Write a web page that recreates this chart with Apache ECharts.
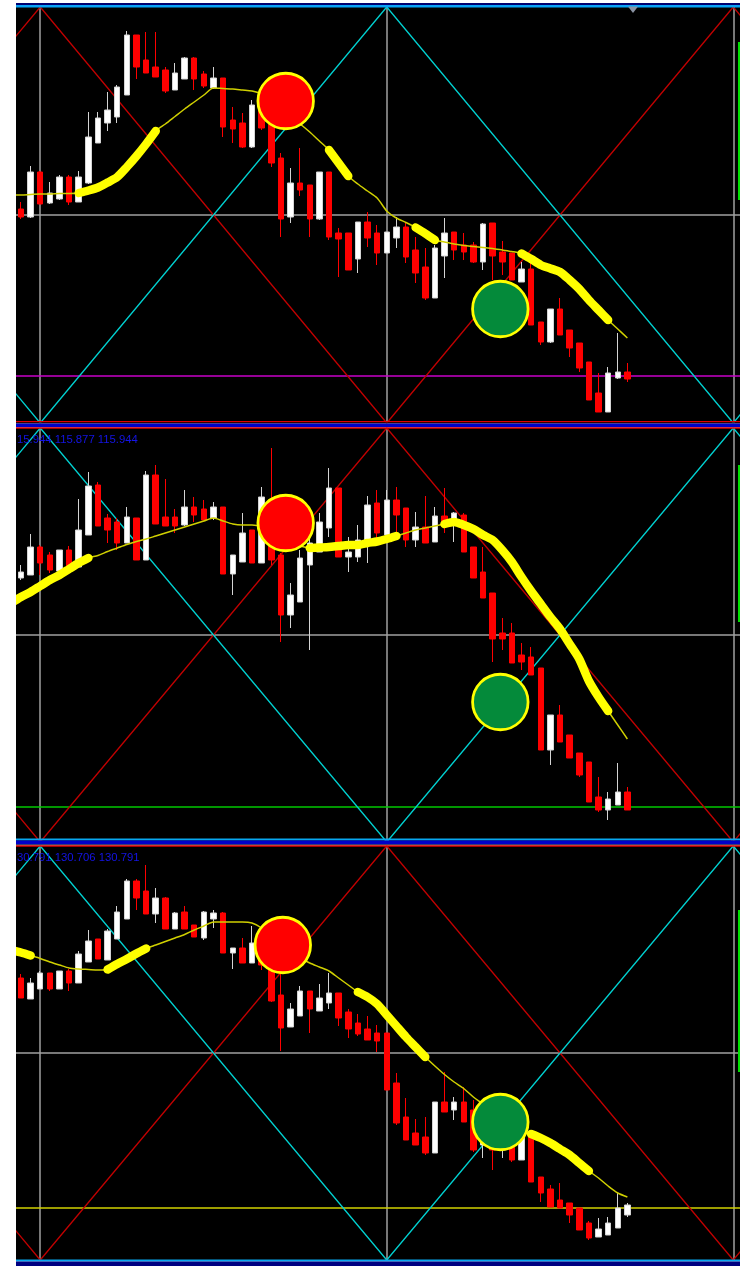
<!DOCTYPE html>
<html><head><meta charset="utf-8">
<script src="https://cdn.jsdelivr.net/npm/echarts@6/dist/echarts.min.js"></script>
<style>html,body{margin:0;padding:0;background:#fff}#c{width:748px;height:1266px}</style>
</head><body><div id="c"></div>
<script>
// ---------- DATA (units = points above each panel's floor) ----------
// candles: [open, close, low, high], one per bar index 0..63
const ohlcP1 = [
[214,206,204,221],[206,251,205,257],[251,219,219,252],[220,230,219,241],[224,246,223,248],
[246,221,218,248],[221,246,221,252],[240,286,239,311],[280,305,280,311],[300,313,292,331],
[306,336,300,338],[328,388,328,392],[388,356,344,388],[363,350,350,391],[356,346,346,391],
[353,332,330,356],[333,350,333,360],[344,365,344,366],[365,344,333,366],[349,337,335,352],
[335,345,334,356],[345,296,286,345],[303,294,280,316],[300,276,275,310],[276,318,275,323],
[323,295,293,328],[308,260,256,323],[265,204,186,270],[206,240,200,255],[240,233,227,275],
[238,204,186,238],[204,251,203,251],[251,186,183,251],[190,184,146,195],[190,153,153,190],
[164,201,150,201],[201,185,176,211],[190,170,158,198],[170,191,170,191],[185,196,175,206],
[196,166,160,200],[173,150,140,186],[156,125,123,175],[125,175,125,178],[167,190,145,205],
[191,173,163,191],[178,171,163,190],[178,161,160,181],[161,199,153,200],[200,167,143,200],
[171,161,148,182],[170,143,143,170],[141,154,141,161],[154,98,98,161],[101,81,78,101],
[81,114,80,114],[114,88,88,125],[93,75,66,93],[80,55,51,80],[61,23,23,61],
[30,11,11,50],[11,50,11,56],[45,51,44,90],[51,44,41,60]
];
const ohlcP2 = [
[264,270,262,277],[267,295,267,308],[295,279,267,297],[287,272,269,290],[271,292,270,292],
[292,275,274,296],[275,312,275,343],[307,356,307,370],[357,316,316,360],[324,312,299,328],
[320,299,292,324],[299,325,299,335],[324,282,282,324],[282,367,282,371],[367,318,318,377],
[325,316,316,363],[325,316,309,333],[317,335,316,352],[335,327,320,345],[333,322,322,342],
[324,335,322,340],[335,268,268,335],[268,287,247,287],[280,309,280,329],[312,279,279,312],
[279,345,279,355],[317,282,277,394],[287,227,200,289],[227,247,214,259],[240,284,240,292],
[277,299,192,329],[290,320,290,329],[314,354,305,374],[354,285,285,354],[285,290,270,305],
[285,302,280,317],[297,337,279,346],[339,309,300,352],[307,342,302,352],[342,327,310,355],
[334,302,295,334],[302,315,295,330],[315,299,299,346],[300,326,300,335],[326,317,309,354],
[318,329,300,330],[327,290,290,329],[295,264,264,295],[270,244,244,295],[249,203,180,249],
[209,203,192,224],[209,179,179,219],[187,180,172,199],[185,167,167,195],[174,92,92,174],
[92,127,77,127],[127,100,100,137],[107,84,84,107],[89,67,65,89],[80,40,40,80],
[45,32,30,65],[32,43,22,50],[37,50,37,79],[50,32,32,55]
];
const ohlcP3 = [
[282,262,262,286],[261,277,261,282],[271,287,271,289],[287,271,269,287],[271,289,271,289],
[289,277,269,291],[277,306,277,309],[298,319,298,330],[321,301,301,321],[300,329,300,331],
[321,348,321,354],[341,379,341,381],[379,362,350,381],[369,346,346,395],[346,362,337,372],
[362,331,331,363],[331,347,331,348],[348,331,331,354],[335,323,323,335],[322,348,320,349],
[341,347,332,350],[347,307,307,348],[307,312,291,312],[312,297,297,322],[297,317,297,334],
[325,295,290,330],[305,259,258,320],[265,232,209,286],[233,251,233,257],[244,269,244,274],
[269,251,227,269],[249,262,249,276],[257,267,251,287],[267,242,234,267],[248,231,222,251],
[237,226,224,246],[231,220,220,244],[227,219,208,235],[227,170,170,227],[177,137,135,187],
[143,120,120,162],[127,115,115,141],[123,107,105,143],[107,158,107,158],[158,148,148,188],
[150,158,140,163],[158,138,138,173],[150,110,108,160],[115,135,102,140],[130,110,90,140],
[110,125,102,130],[125,100,98,130],[100,125,100,130],[123,78,78,127],[83,67,58,83],
[71,53,53,75],[60,52,52,77],[57,45,37,57],[52,30,30,52],[37,22,20,39],
[23,31,23,42],[25,37,25,43],[32,52,32,67],[45,55,43,57]
];
// moving average, bar index -1..63
const maP1 = [228,228,228.5,229,229,229.5,229.5,230,232.5,235.5,240.5,246,256,267,279,292,299,306.5,314,321,328,335,334.5,334,333,332,329,321,313,306,299,291,282,273,260,247,239,232,225,212,205,200.5,195.5,189.5,183,181,179,177.5,176.5,175.5,174.5,173,171.5,169.5,164,158,154.5,151,143,134,123,113,103,94,85];
const maP2 = [239,245,250,256,262,267,273,279,284,286.5,290.5,294,297.5,300.5,303,306,309,312,315,318,321,324,321,318,317,317,315,309,304,299,296,294,294.5,295,296,297,297,299,300.5,303,306,309,312,314,316,318,320,317,313,307,302,292,280,265,251,238,225,213,198,183,161,145,131,117,103];
const maP3 = [310,307.5,304.5,301.5,298,295,292,291,290.5,290,290.5,296,301,306.5,311.5,315,318.5,322,325.5,330,334,338,338,338,338,337,332,323,315,308,302,297,293,289,282,275,268,263,256,245,234,223,213,203,194,185.5,178,171.5,163,156,148,140,134,129,126,122,117,111,105,97,89,82,74,67,63];
// trending stretches of the average (bar index ranges)
const trendP1 = [[6,14],[32,34],[41,43],[52,61]];
const trendP2 = [[-1,7],[30,39],[44,45],[46,61]];
const trendP3 = [[-1,1],[9,13],[35,42],[53,59]];
// signal circles [bar index, level]
const sellP1 = [27.5,322], buyP1 = [49.8,114];
const sellP2 = [27.5,319], buyP2 = [49.8,140];
const sellP3 = [27.2,315], buyP3 = [49.8,138];
// horizontal levels
const levelP1 = 47, levelP2 = 35, levelP3 = 52;
const midP1 = 208, midP2 = 207, midP3 = 207;
const rangeP1 = 416, rangeP2 = 414, rangeP3 = 414;
// zig-zag fan pivots (bar index) and levels
const zigPivots = [-34, 2, 38, 74, 110];
const redZigP1 = [0,416,0,416,0], cyanZigP1 = [416,0,416,0,416];
const redZigP2 = [414,0,414,0,414], cyanZigP2 = [0,414,0,414,0];
const redZigP3 = [414,0,414,0,414], cyanZigP3 = [0,414,0,414,0];
const periodBars = [2, 38, 74];
// header texts
const labelP2 = ['15.944', '115.877', '115.944'];
const labelP3 = ['30.791', '130.706', '130.791'];

// ---------- CHART ----------
const X_MIN = -0.519, X_MAX = 74.70;
const panels = [
  {top:7, h:rangeP1, ohlc:ohlcP1, ma:maP1, trend:trendP1, level:levelP1, levelColor:'#c800c8', mid:midP1, red:redZigP1, cyan:cyanZigP1, sell:sellP1, buy:buyP1},
  {top:428, h:rangeP2, ohlc:ohlcP2, ma:maP2, trend:trendP2, level:levelP2, levelColor:'#00c800', mid:midP2, red:redZigP2, cyan:cyanZigP2, sell:sellP2, buy:buyP2},
  {top:846, h:rangeP3, ohlc:ohlcP3, ma:maP3, trend:trendP3, level:levelP3, levelColor:'#d2d200', mid:midP3, red:redZigP3, cyan:cyanZigP3, sell:sellP3, buy:buyP3}
];
const grids=[], xAxes=[], yAxes=[], series=[];
panels.forEach((p,k)=>{
  grids.push({left:16, width:724, top:p.top, height:p.h, show:true, backgroundColor:'#000', borderWidth:0});
  xAxes.push({type:'value', gridIndex:k, min:X_MIN, max:X_MAX, show:false, splitLine:{show:false}});
  yAxes.push({type:'value', gridIndex:k, min:0, max:p.h, show:false, splitLine:{show:false}});
  const gray = {color:'#a0a0a0', width:1.5, type:'solid'};
  series.push({type:'line', xAxisIndex:k, yAxisIndex:k, silent:true, showSymbol:false, z:2,
    data: zigPivots.map((x,j)=>[x,p.red[j]]), lineStyle:{color:'#c00000', width:1.3},
    markLine:{silent:true, symbol:'none', label:{show:false}, z:1,
      data:[...periodBars.map(x=>({xAxis:x, lineStyle:gray})),
            {yAxis:p.mid, lineStyle:gray},
            {yAxis:p.level, lineStyle:{color:p.levelColor, width:1.5, type:'solid'}}]}});
  series.push({type:'line', xAxisIndex:k, yAxisIndex:k, silent:true, showSymbol:false, z:2,
    data: zigPivots.map((x,j)=>[x,p.cyan[j]]), lineStyle:{color:'#00d0d0', width:1.3}});
  series.push({type:'candlestick', xAxisIndex:k, yAxisIndex:k, silent:true, z:3, barWidth:6,
    data: p.ohlc.map((d,i)=>[i, d[0], d[1], d[2], d[3]]),
    itemStyle:{color:'#ffffff', color0:'#ff0000', borderColor:'#d4d4d4', borderColor0:'#ff0000', borderWidth:1}});
  const inTrend = i => p.trend.some(r => i>=r[0] && i<=r[1]);
  series.push({type:'line', xAxisIndex:k, yAxisIndex:k, silent:true, showSymbol:false, z:4, smooth:0.25,
    data: p.ma.map((v,j)=>[j-1, v]), lineStyle:{color:'#d0d000', width:1.5}});
  series.push({type:'line', xAxisIndex:k, yAxisIndex:k, silent:true, showSymbol:false, z:5, connectNulls:false, smooth:0.25,
    data: p.ma.map((v,j)=>[j-1, inTrend(j-1) ? v : '-']), lineStyle:{color:'#ffff00', width:8.5, cap:'round', join:'round'}});
  series.push({type:'scatter', xAxisIndex:k, yAxisIndex:k, silent:true, z:6, symbol:'circle', symbolSize:55.5,
    data:[{value:p.sell, itemStyle:{color:'#ff0000'}}, {value:p.buy, itemStyle:{color:'#048a3a'}}],
    itemStyle:{borderColor:'#ffff00', borderWidth:2.8, opacity:1}});
});
const R = (x,y,w,h,fill,z)=>({type:'rect', z:z||100, shape:{x,y,width:w,height:h}, style:{fill}});
const graphic = [
  R(0,0,16,1266,'#ffffff',90), R(740,0,8,1266,'#ffffff',90), R(16,0,724,3,'#ffffff',90),
  R(16,3,724,2,'#000070'), R(16,5,724,2.5,'#0aa2f5'),
  R(16,421,724,1.6,'#e00000'), R(16,422.6,724,0.8,'#000'), R(16,423.4,724,3.8,'#0000c8'), R(16,427.2,724,1.6,'#e00000'),
  R(16,838.6,724,2,'#08a8f0'), R(16,840.6,724,3.8,'#0000c8'), R(16,844.4,724,0.8,'#000'), R(16,845.2,724,1.6,'#e00000'),
  R(16,1259.4,724,2.2,'#08a8f0'), R(16,1261.6,724,4.4,'#000080'),
  R(738,42,2,158,'#00e000'), R(738,465,2,157,'#00e000'), R(738,910,2,162,'#00e000'),
  {type:'polygon', z:100, shape:{points:[[628,6.5],[638,6.5],[633,13]]}, style:{fill:'#8a93a3'}},
  {type:'text', z:100, left:17, top:434, style:{text:labelP2.join(' '), fill:'#1414e6', font:'11.3px "Liberation Sans", Arial, sans-serif'}},
  {type:'text', z:100, left:17, top:852, style:{text:labelP3.join(' '), fill:'#1414e6', font:'11.3px "Liberation Sans", Arial, sans-serif'}}
];
const chart = echarts.init(document.getElementById('c'), null, {renderer:'canvas'});
chart.setOption({animation:false, backgroundColor:'#ffffff', grid:grids, xAxis:xAxes, yAxis:yAxes, series, graphic});
</script>
</body></html>
